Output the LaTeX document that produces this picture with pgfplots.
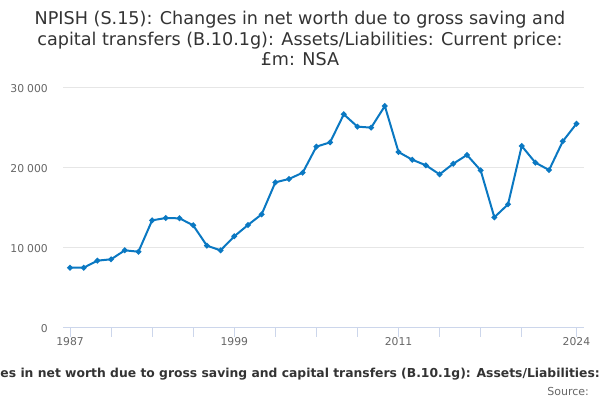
\documentclass[border=0pt]{standalone}
\usepackage{pgfplots}
\pgfplotsset{compat=1.18}
\usepackage{fontspec}
\setmainfont{DejaVu Sans}
\definecolor{linec}{HTML}{0A78C2}
\definecolor{axisc}{HTML}{CCD6EB}
\definecolor{gridc}{HTML}{E6E6E6}
\definecolor{labc}{HTML}{666666}
\definecolor{titc}{HTML}{333333}
\begin{document}
\begin{tikzpicture}
\path[use as bounding box] (0,0) rectangle (600bp,400bp);
\clip (0,0) rectangle (600bp,400bp);
\begin{axis}[
  at={(63.3bp,72.7bp)}, anchor=south west,
  scale only axis, width=520.7bp, height=240bp,
  xmin=1986.51, xmax=2024.55, ymin=0, ymax=30000,
  scaled y ticks=false,
  axis x line*=bottom, axis y line*=left,
  x axis line style={-, draw=axisc, line width=1bp},
  y axis line style={draw=none},
  xtick={1987,1990,1993,1996,1999,2002,2005,2008,2011,2014,2017,2020,2024},
  xticklabels={1987,,,,1999,,,,2011,,,,2024},
  ytick={0,10000,20000,30000},
  yticklabels={0,10\kern3bp000,20\kern3bp000,30\kern3bp000},
  tick align=outside,
  xtick style={draw=axisc, line width=1bp},
  ytick style={draw=none},
  major tick length=9.5bp,
  ymajorgrids, grid style={draw=gridc, line width=1bp},
  ticklabel style={font=\fontsize{10.8bp}{13bp}\selectfont, text=labc},
  xticklabel style={anchor=base, inner sep=0pt, yshift=-9.2bp},
  yticklabel style={anchor=east, inner sep=0pt, xshift=-5.8bp, yshift=-1.5bp},
  clip=false,
]
\addplot[color=linec, line width=2bp, mark=*, mark size=1.7bp, mark options={solid}] coordinates {
(1987,7450) (1988,7450) (1989,8330) (1990,8500) (1991,9620) (1992,9450)
(1993,13370) (1994,13660) (1995,13620) (1996,12750) (1997,10200) (1998,9620)
(1999,11370) (2000,12790) (2001,14120) (2002,18120) (2003,18540) (2004,19330)
(2005,22580) (2006,23120) (2007,26620) (2008,25080) (2009,24960) (2010,27660)
(2011,21910) (2012,20950) (2013,20250) (2014,19120) (2015,20450) (2016,21540)
(2017,19620) (2018,13750) (2019,15370) (2020,22660) (2021,20580) (2022,19660)
(2023,23250) (2024,25450)
};
\end{axis}
\begin{scope}[every node/.style={inner sep=0pt, text=titc, font=\fontsize{17.6bp}{21bp}\selectfont}]
\node[anchor=base] at (300bp,375bp) {NPISH (S.15): Changes in net worth due to gross saving and};
\node[anchor=base] at (300bp,354.5bp) {capital transfers (B.10.1g): Assets/Liabilities: Current price:};
\node[anchor=base] at (300bp,334bp) {£m: NSA};
\end{scope}
\node[anchor=base, inner sep=0pt, text=titc, font=\fontsize{12.35bp}{14bp}\selectfont\bfseries] at (312.9bp,23bp) {NPISH (S.15): Changes in net worth due to gross saving and capital transfers (B.10.1g): Assets/Liabilities: Current price: £m: NSA};
\node[anchor=base east, inner sep=0pt, text=labc, font=\fontsize{11bp}{13bp}\selectfont] at (589bp,5bp) {Source:};
\end{tikzpicture}
\end{document}
